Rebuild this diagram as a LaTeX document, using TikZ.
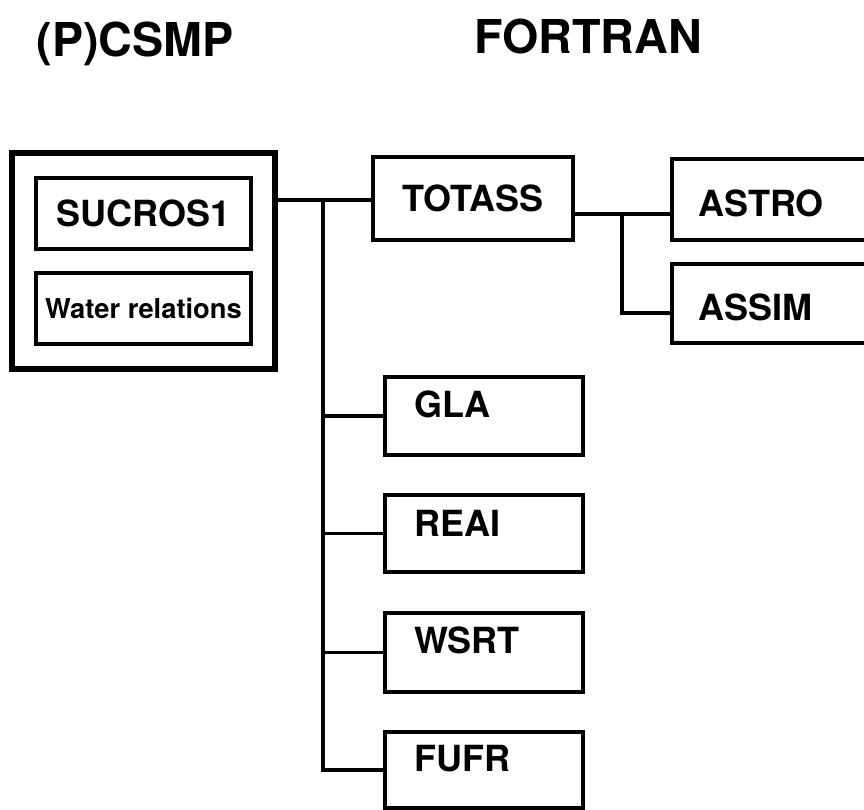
\documentclass[tikz,border=0pt]{standalone}
\usepackage{fontspec}
\setmainfont{TeX Gyre Heros}
\tikzset{
  prog box/.style={draw, rectangle, line width=3.6pt, inner sep=0pt},
  sub box/.style={draw, rectangle, line width=2.6pt, inner sep=0pt,
    minimum width=161.25pt, minimum height=53.25pt},
  fort box/.style={prog box, minimum width=148.5pt},
  link/.style={line width=2.3pt},
  big font/.style={font=\bfseries\fontsize{35}{38}\selectfont},
  box font/.style={font=\bfseries\fontsize{27}{30}\selectfont}
}
\begin{document}
\begin{tikzpicture}[x=0.75pt, y=-0.75pt, line join=miter]
\clip (0,0) rectangle (864,810);
\node[big font, anchor=base] (csmp) at (135,56) {(P)CSMP};
\node[big font, anchor=base] (fortran) at (588,53) {FORTRAN};
% CSMP part
\node[prog box, line width=3.8pt, minimum width=197.25pt, minimum height=162pt] (csmpbox) at (143.5,261) {};
\node[sub box, box font] (sucros) at (143.5,213.5) {SUCROS1};
\node[sub box, font=\bfseries\fontsize{20.5}{22}\selectfont] (water) at (143.5,308.5) {Water relations};
% FORTRAN part
\node[prog box, box font, minimum width=150pt, minimum height=62.25pt] (totass) at (473,198.5) {TOTASS};
\node[prog box, minimum width=171pt, minimum height=60.75pt] (astro) at (786,199.5) {};
\node[prog box, minimum width=171pt, minimum height=59.25pt] (assim) at (786,303.5) {};
\node[fort box, minimum height=58.5pt] (gla) at (484,416) {};
\node[fort box, minimum height=57.75pt] (reai) at (484,533.5) {};
\node[fort box, minimum height=59.25pt] (wsrt) at (484,652.5) {};
\node[fort box, minimum height=57pt] (fufr) at (484,770) {};
\begin{scope}[every node/.style={box font, anchor=west, inner sep=0pt}]
\node (astrot) at (698,203) {ASTRO};
\node (assimt) at (698,307) {ASSIM};
\node (glat) at (414,404) {GLA};
\node (reait) at (414,523) {REAI};
\node (wsrtt) at (414,640) {WSRT};
\node (fufrt) at (414,759) {FUFR};
\end{scope}
\coordinate (j1) at (323,200);
\coordinate (j2) at (622,214);
\coordinate (j3) at (622,313);
\draw[link] (csmpbox.east |- j1) -- (totass.west |- j1);
\draw[link] (j1) |- (fufr.west);
\foreach \b in {gla,reai,wsrt}
  \draw[link] (j1 |- \b.west) -- (\b.west);
\draw[link] (totass.east |- j2) -- (astro.west |- j2);
\draw[link] (j2) -- (j3) -- (assim.west |- j3);
%\draw[link] (j1) -- (j2);
\end{tikzpicture}
\end{document}
